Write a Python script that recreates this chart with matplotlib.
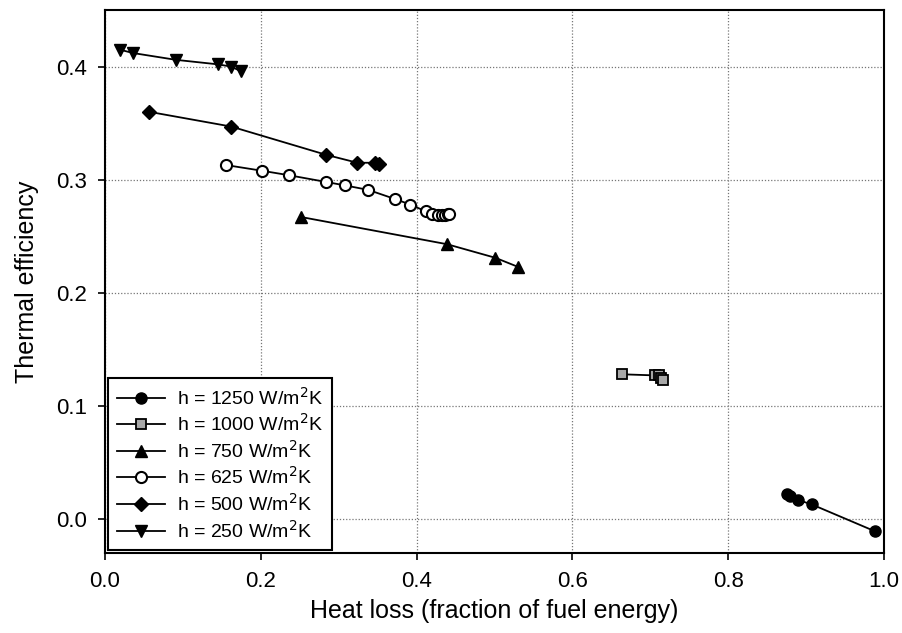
import matplotlib
matplotlib.use("Agg")
import matplotlib.pyplot as plt

plt.rcParams['font.family'] = ['Liberation Sans', 'DejaVu Sans']

# Heat loss (fraction of fuel energy) and thermal efficiency for each wall heat transfer coefficient
loss_1250 = [0.876, 0.879, 0.889, 0.907, 0.989]
eff_1250 = [0.022, 0.020, 0.017, 0.013, -0.011]

loss_1000 = [0.663, 0.706, 0.711, 0.714, 0.716]
eff_1000 = [0.128, 0.127, 0.127, 0.125, 0.123]

loss_750 = [0.252, 0.439, 0.501, 0.530]
eff_750 = [0.267, 0.243, 0.231, 0.223]

loss_625 = [0.155, 0.201, 0.236, 0.284, 0.308, 0.338, 0.372, 0.392,
            0.412, 0.420, 0.427, 0.433, 0.437, 0.440, 0.442]
eff_625 = [0.313, 0.308, 0.304, 0.298, 0.295, 0.291, 0.283, 0.278,
           0.272, 0.270, 0.269, 0.269, 0.269, 0.270, 0.270]

loss_500 = [0.057, 0.162, 0.284, 0.324, 0.347, 0.352]
eff_500 = [0.360, 0.347, 0.322, 0.315, 0.315, 0.314]

loss_250 = [0.019, 0.036, 0.091, 0.145, 0.162, 0.174]
eff_250 = [0.415, 0.412, 0.406, 0.402, 0.400, 0.396]

labels = [r"h = 1250 W/m$^2$K", r"h = 1000 W/m$^2$K", r"h = 750 W/m$^2$K",
          r"h = 625 W/m$^2$K", r"h = 500 W/m$^2$K", r"h = 250 W/m$^2$K"]

x_ticks = [0.0, 0.2, 0.4, 0.6, 0.8, 1.0]
y_ticks = [0.0, 0.1, 0.2, 0.3, 0.4]

fig = plt.figure(figsize=(9.03, 6.33), dpi=100)
ax = fig.add_axes([0.1163, 0.1264, 0.8627, 0.8577])

ax.grid(True, color='#777777', linestyle=(0, (1, 1.5)), linewidth=0.9)
ax.set_axisbelow(True)

lw = 1.3
ax.plot(loss_1250, eff_1250, '-o', color='black', lw=lw, ms=8,
        mfc='black', mec='black', label=labels[0])
ax.plot(loss_1000, eff_1000, '-s', color='black', lw=lw, ms=6.5,
        mfc='#a8a8a8', mec='black', mew=1.3, label=labels[1])
ax.plot(loss_750, eff_750, '-^', color='black', lw=lw, ms=8.5,
        mfc='black', mec='black', label=labels[2])
ax.plot(loss_625, eff_625, '-o', color='black', lw=lw, ms=8,
        mfc='white', mec='black', mew=1.5, label=labels[3])
ax.plot(loss_500, eff_500, '-D', color='black', lw=lw, ms=7.5,
        mfc='black', mec='black', label=labels[4])
ax.plot(loss_250, eff_250, '-v', color='black', lw=lw, ms=8.5,
        mfc='black', mec='black', label=labels[5])

ax.set_xlim(0.0, 1.0)
ax.set_ylim(-0.03, 0.45)
ax.set_xticks(x_ticks)
ax.set_yticks(y_ticks)
ax.set_xticklabels([f"{v:.1f}" for v in x_ticks])
ax.set_yticklabels([f"{v:.1f}" for v in y_ticks])
ax.tick_params(direction='out', length=5, width=1.2, labelsize=16, pad=8)

for s in ax.spines.values():
    s.set_linewidth(1.5)
    s.set_color('black')

ax.set_xlabel("Heat loss (fraction of fuel energy)", fontsize=18, labelpad=5)
ax.set_ylabel("Thermal efficiency", fontsize=18, labelpad=12)

leg = ax.legend(loc='lower left', fontsize=14, frameon=True, fancybox=False,
                edgecolor='black', framealpha=1, handlelength=2.5,
                labelspacing=0.24, borderaxespad=0.15, handletextpad=0.6,
                borderpad=0.45)
leg.get_frame().set_linewidth(1.5)

fig.savefig("out.png", dpi=100)
